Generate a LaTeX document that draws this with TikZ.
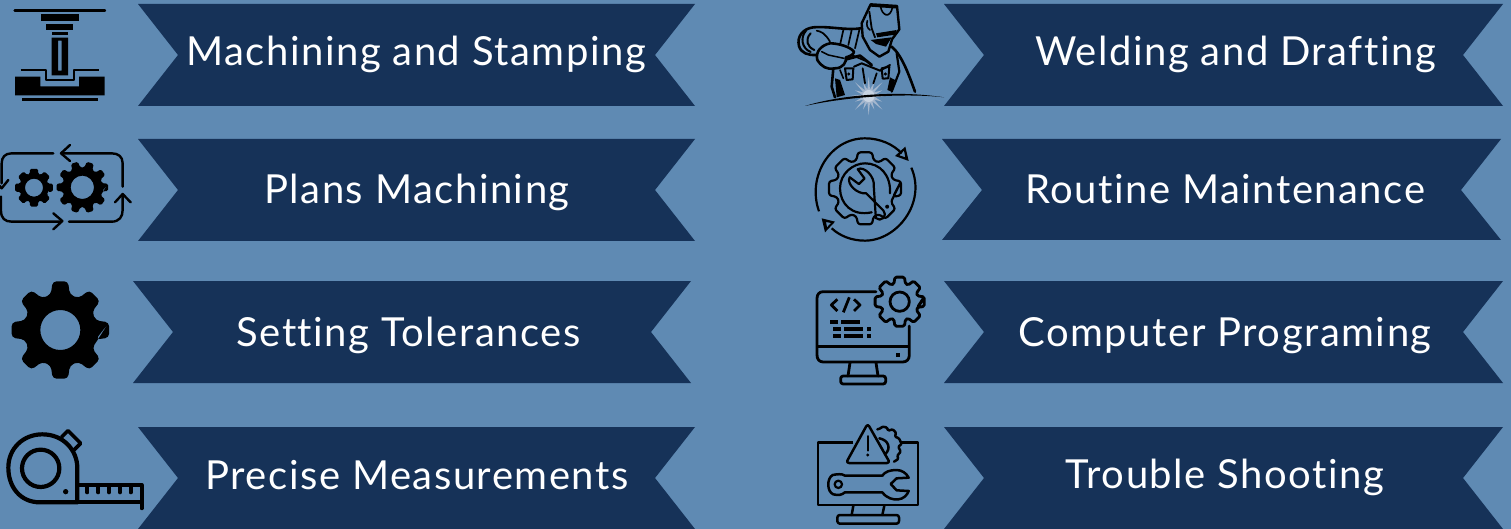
\documentclass[tikz,border=0pt]{standalone}
\usepackage{fontspec}
\setmainfont[LetterSpace=3.8,Ligatures={NoCommon,NoRare}]{Lato}
\definecolor{bgblue}{HTML}{5F8AB3}
\definecolor{navy}{HTML}{163258}
\definecolor{sparkc}{HTML}{A4B6CD}
\tikzset{
 lbl/.style={anchor=base,text=white,font=\fontsize{40}{40}\selectfont,inner sep=0pt},
 ico/.style={draw=black,line width=#1,line cap=round,line join=round,fill=none},
 ico/.default=1.6pt,
 zoomed/.style={x=0.33333pt,y=-0.33333pt},
}
\newcommand{\banner}[4]{\fill[navy] (#1,#2) -- (#1+#3,#2) -- (#1+#3-40,#2+51) -- (#1+#3,#2+#4) -- (#1,#2+#4) -- (#1+40,#2+51) -- cycle;}
\newcommand{\gearpath}[5]{(-#4:#1)
 \foreach \i [evaluate=\i as \a using \i*360/#3] in {1,...,#3} {
  -- (\a-#5:#2) -- (\a-#4:#1) -- (\a+#4:#1) -- (\a+#5:#2) } -- cycle}
\begin{document}
\begin{tikzpicture}[x=1pt,y=-1pt]
\useasboundingbox (0,0) rectangle (1511,529);
\fill[bgblue] (0,0) rectangle (1511,529);
\banner{138}{4}{557}{102}
\banner{138}{139}{557}{102}
\banner{133}{281}{558}{102}
\banner{138}{427}{557}{102}
\banner{944}{4}{559}{102}
\banner{942}{139}{559}{101}
\banner{944}{281}{559}{102}
\banner{944}{427}{559}{102}
\node[lbl] (t1) at (416,66) {Machining and Stamping};
\node[lbl] (t2) at (417,204) {Plans Machining};
\node[lbl] (t3) at (408.5,346) {Setting Tolerances};
\node[lbl] (t4) at (417,489) {Precise Measurements};
\node[lbl] (t5) at (1235.5,66) {Welding and Drafting};
\node[lbl] (t6) at (1225,204) {Routine Maintenance};
\node[lbl] (t7) at (1225,346) {Computer Programing};
\node[lbl] (t8) at (1225,488) {Trouble Shooting};

% ---- press icon
\begin{scope}[zoomed]
\draw[ico=2.4pt] (44,31) -- (315,31);
\fill (122,43) rectangle (237,63);
\fill (138,71) rectangle (220,90);
\fill (155,97) rectangle (204,105);
\fill[even odd rule] (155,113) rectangle (204,226) (174,122) rectangle (185,212);
\draw[ico=2.2pt,line cap=butt] (62,211) -- (139,211) -- (139,241) -- (221,241) -- (221,211) -- (297,211);
\fill (45,230) -- (121,230) -- (121,259) -- (237,259) -- (237,230) -- (314,230) -- (314,286) -- (45,286) -- cycle;
\fill (65,293) rectangle (295,304);
\end{scope}

% ---- process gears icon
\begin{scope}[zoomed]
\draw[ico=2.4pt] (160,460) -- (35,460) .. controls (15,460) and (5,472) .. (5,490) -- (5,550);
\draw[ico=2.4pt] (25,540) -- (5,565) -- (-12,545);
\draw[ico=2.4pt] (3,590) -- (3,632) .. controls (3,655) and (15,665) .. (35,665) -- (185,665);
\draw[ico=2.4pt] (160,640) -- (187,663) -- (160,688);
\draw[ico=2.4pt] (207,665) -- (335,665) .. controls (358,665) and (368,650) .. (368,630) -- (368,585);
\draw[ico=2.4pt] (345,607) -- (368,582) -- (392,607);
\draw[ico=2.4pt] (368,560) -- (368,490) .. controls (368,470) and (355,460) .. (335,460) -- (185,460);
\draw[ico=2.4pt] (210,435) -- (183,460) -- (210,483);
\fill[even odd rule,rounded corners=1.5pt,shift={(102,563)}] \gearpath{58}{43}{8}{12}{17} (0,0) circle[radius=27];
\fill[even odd rule,rounded corners=1.5pt,shift={(247,562)}] \gearpath{78}{60}{10}{8}{12} (0,0) circle[radius=35];
\end{scope}

% ---- big gear icon
\begin{scope}[shift={(0,265)},zoomed]
\fill[even odd rule,rounded corners=4pt,shift={(181,195)}] \gearpath{148}{110}{8}{9}{15} (0,0) circle[radius=60];
\end{scope}

% ---- tape icon
\begin{scope}[shift={(0,265)},zoomed]
\draw[ico=4.2pt] (232,712) -- (120,712) .. controls (60,712) and (25,665) .. (25,608) .. controls (25,550) and (70,508) .. (127,508) .. controls (190,508) and (232,555) .. (232,610) -- (232,712);
\draw[ico=4.2pt] (122,610) circle[radius=56];
\draw[ico=3.6pt] (185,516) -- (204,497) -- (242,535) -- (222,555);
\fill (197,680) circle[radius=8];
\draw[ico=3.8pt] (232,660) -- (425,660) -- (425,730);
\draw[ico=3.8pt] (232,712) -- (425,712);
\foreach \x in {262,295,327,360,392} \draw[ico=4pt] (\x,660) -- (\x,682);
\end{scope}

% ---- welder icon
\begin{scope}[shift={(780,0)},zoomed]
% spark
\fill[sparkc,shift={(266,288)}] (0:50)
 \foreach \i [evaluate=\i as \a using \i*22.5] in {1,...,16} {
   -- (\a-11.25:20) -- (\a:{mod(\i,2)==0 ? 58 : 44}) } -- cycle;
\fill[white!40!sparkc,shift={(266,288)}] (0,0) circle[radius=18];
% helmet
\draw[ico=2.4pt] (272,13) -- (351,18) -- (358,88) -- (336,118) -- (325,155) -- (298,170) -- (270,150) -- (248,110) -- (245,70) -- cycle;
\draw[ico=1.8pt] (268,35) -- (275,85) -- (285,112);
\fill (272,12) -- (352,18) -- (354,26) -- (272,20) -- cycle;
\fill (288,100) -- (350,90) -- (345,104) -- (292,112) -- cycle;
\fill (272,120) -- (335,112) -- (318,140) -- (288,132) -- cycle;
\draw[ico=1.6pt] (302,20) .. controls (305,45) and (330,60) .. (338,20);
\draw[ico=1.6pt] (262,62) .. controls (258,75) and (262,85) .. (270,90);
% arm
\draw[ico=2.6pt] (242,85) .. controls (200,92) and (150,78) .. (100,82) .. controls (68,86) and (50,110) .. (57,138) .. controls (63,160) and (85,166) .. (108,165);
\draw[ico=2pt] (78,92) .. controls (60,112) and (65,145) .. (92,156);
\draw[ico=2pt] (92,100) .. controls (75,118) and (80,140) .. (103,150);
\draw[ico=1.7pt] (110,92) .. controls (125,95) and (135,100) .. (150,125);
\draw[ico=1.7pt] (190,90) -- (180,135);
\draw[ico=1.7pt] (215,90) -- (205,135);
\draw[ico=1.7pt] (238,90) -- (225,145);
% glove
\draw[ico=2.6pt,fill=bgblue] (150,130) .. controls (175,130) and (210,140) .. (222,155) .. controls (222,165) and (205,170) .. (198,172) .. controls (200,185) and (190,205) .. (165,205) .. controls (140,210) and (125,200) .. (112,180) .. controls (105,155) and (125,135) .. (150,130) -- cycle;
\draw[ico=1.5pt] (125,155) -- (145,165) -- (192,175);
% torch
\draw[ico=2.8pt] (198,178) -- (240,167) -- (275,195);
\draw[ico=1.7pt] (215,165) -- (255,182);
% body
\draw[ico=2.6pt] (160,205) -- (155,260) -- (165,292);
\fill (165,235) -- (180,240) -- (195,285) -- (170,292) -- cycle;
\draw[ico=2.6pt] (335,140) .. controls (365,165) and (385,220) .. (405,275);
\draw[ico=2.2pt] (350,160) -- (358,215) -- (335,275);
\draw[ico=2pt] (222,200) -- (245,190) -- (300,212) -- (330,195);
\draw[ico=2pt] (195,205) -- (220,205) -- (218,238) -- (200,240) -- cycle;
\draw[ico=2pt] (305,205) -- (328,200) -- (325,235) -- (308,236) -- cycle;
\fill (206,222) circle[radius=5];
\fill (316,222) circle[radius=5];
\draw[ico=1.8pt] (248,205) -- (255,250);
\draw[ico=1.8pt] (290,220) -- (280,250);
\draw[ico=1.6pt] (180,210) -- (190,235);
\fill (330,232) -- (345,240) -- (335,275) -- (322,270) -- cycle;
% ground
\fill (75,318) .. controls (180,285) and (350,270) .. (492,292) .. controls (370,278) and (190,292) .. (75,318) -- cycle;
\end{scope}

% ---- wrench/gear icon
\begin{scope}[shift={(780,0)},zoomed]
\draw[ico=2.2pt,line cap=butt] (117,634) .. controls (80,530) and (150,415) .. (255,415) .. controls (300,415) and (340,433) .. (365,460);
\fill[even odd rule] (345,468) -- (386,483) -- (376,440) -- cycle (358,466) -- (376,472) -- (372,452) -- cycle;
\draw[ico=2.2pt,line cap=butt] (394,503) .. controls (440,610) and (350,722) .. (255,722) .. controls (215,722) and (180,708) .. (155,685);
\fill[even odd rule] (125,655) -- (165,665) -- (135,697) -- cycle (138,666) -- (153,669) -- (141,682) -- cycle;
\begin{scope}[shift={(255,565)}]
\draw[ico=2.2pt,rounded corners=2.5pt] \gearpath{110}{88}{8}{11}{17};
\draw[bgblue,line width=4pt,line cap=butt] (88,38) -- (100,43);
\draw[bgblue,line width=4pt,line cap=butt] (38,88) -- (46,100);
\draw[ico=2.2pt] (20,72) .. controls (-40,85) and (-75,45) .. (-75,0) .. controls (-75,-45) and (-35,-75) .. (0,-75) .. controls (45,-75) and (78,-40) .. (75,15);
\begin{scope}[rotate=-45,shift={(-14,-8)}]
\fill[bgblue] (-42,-17) -- (-8,-12) -- (-8,12) -- (-42,17) .. controls (-36,38) and (10,38) .. (27,16) -- (100,16) -- (100,-16) -- (27,-16) .. controls (10,-38) and (-36,-38) .. (-42,-17);
\draw[ico=2.2pt] (-42,-17) -- (-8,-12) -- (-8,12) -- (-42,17) .. controls (-36,38) and (10,38) .. (27,16) -- (100,16) arc[start angle=-90,end angle=90,radius=16] -- (27,-16) .. controls (10,-38) and (-36,-38) .. (-42,-17) -- cycle;
\fill (100,0) circle[radius=6];
\end{scope}
\end{scope}
\end{scope}

% ---- computer icon
\begin{scope}[shift={(790,265)},zoomed]
\draw[ico=2.8pt] (258,80) -- (100,80) .. controls (88,80) and (81,88) .. (81,100) -- (81,270) .. controls (81,283) and (88,291) .. (100,291) -- (338,291) .. controls (350,291) and (358,283) .. (358,270) -- (358,183);
\draw[ico=2.8pt,line cap=butt] (81,244) -- (358,244);
\fill (318,264) rectangle (330,276);
\draw[ico=2.8pt] (180,293) -- (174,333);
\draw[ico=2.8pt] (258,293) -- (264,333);
\draw[ico=2.8pt,rounded corners=2.5pt] (152,333) rectangle (287,357);
\draw[ico=2.8pt,line cap=butt] (142,103) -- (124,120) -- (142,138);
\draw[ico=2.8pt,line cap=butt] (192,103) -- (210,120) -- (192,138);
\draw[ico=2.8pt,line cap=butt] (178,97) -- (160,142);
\fill (120,165) rectangle (144,177);
\fill (153,165) rectangle (210,177);
\fill (129,186) rectangle (153,197);
\fill (162,186) rectangle (218,197);
\fill (232,186) rectangle (243,197);
\fill (129,207) rectangle (153,218);
\fill (162,207) rectangle (218,218);
\fill (232,207) rectangle (243,218);
\draw[ico=2.8pt,rounded corners=1.5pt,shift={(329,110)}] \gearpath{75}{56}{8}{11}{18};
\draw[ico=2.8pt] (329,110) circle[radius=29];
\end{scope}

% ---- warning monitor icon
\begin{scope}[shift={(790,265)},zoomed]
\draw[ico=2.5pt,line cap=butt] (190,532) -- (84,532) -- (84,720) -- (384,720) -- (384,532) -- (332,532);
\draw[ico=2.5pt] (190,722) -- (185,750);
\draw[ico=2.5pt] (283,722) -- (277,750);
\draw[ico=2.5pt,rounded corners=2.5pt] (142,750) rectangle (327,776);
\draw[ico=2.5pt,rounded corners=3pt] (233,476) -- (168,594) -- (300,594) -- cycle;
\draw[ico=1.9pt] (233,513) -- (233,557);
\fill (233,570) circle[radius=5];
\draw[ico=2.5pt,rounded corners=1pt] (262,493) -- (272,490) -- (276,485) -- (290,487) -- (295,497) -- (308,493) -- (318,503) -- (315,515) -- (327,520) -- (335,537) -- (325,545) -- (332,560) -- (322,572) -- (325,582) -- (312,590);
\draw[ico=2.5pt] (268,520) .. controls (295,525) and (305,550) .. (285,568);
\draw[ico=2.5pt] (277,632) -- (165,632) .. controls (155,625) and (140,628) .. (128,630) .. controls (110,640) and (110,680) .. (130,688) .. controls (145,692) and (155,690) .. (165,682) -- (277,682) .. controls (290,700) and (310,705) .. (325,703) .. controls (340,702) and (352,690) .. (356,678) -- (320,676) -- (302,657) -- (320,640) -- (356,638) .. controls (350,625) and (335,615) .. (320,615) .. controls (300,615) and (285,620) .. (277,632) -- cycle;
\draw[ico=2.2pt] (145,658) circle[radius=11];
\end{scope}
\end{tikzpicture}
\end{document}
